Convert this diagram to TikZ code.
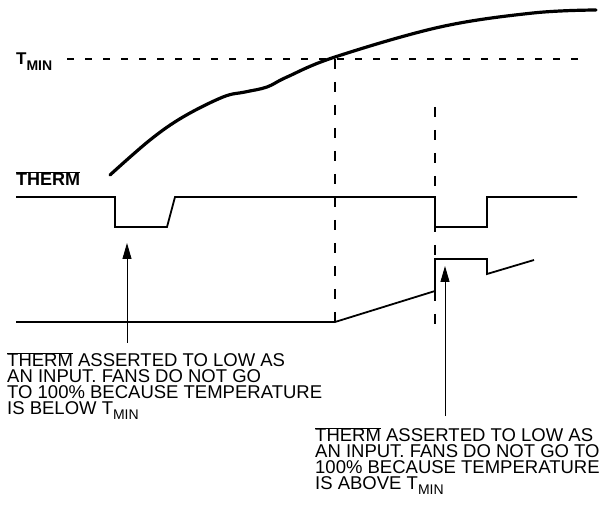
\documentclass[tikz,border=0pt]{standalone}
\usepackage{fontspec}
\setmainfont{Liberation Sans}
\usetikzlibrary{arrows.meta,positioning}
\newcommand{\ovl}[1]{$\overline{\mbox{#1}}$}
\newcommand{\tsub}[1]{\raisebox{-5pt}{\fontsize{14}{14}\selectfont #1}}

\begin{document}
\begin{tikzpicture}[x=1pt, y=-1pt,
    every node/.style={font=\fontsize{18.5}{16}\selectfont, inner sep=0pt},
    wave/.style={line width=1.8pt},
    guide/.style={line width=1.8pt, dash pattern=on 7pt off 11pt},
    vguide/.style={line width=1.8pt, dash pattern=on 10pt off 13pt},
    pointer/.style={line width=0.9pt, -{Triangle[length=16pt, width=9pt]}}]
        \useasboundingbox (0,0) rectangle (603,505);
        % labels
        \node[anchor=base west, font=\fontsize{17}{17}\selectfont\bfseries] (tmin) at (16,65) {T\raisebox{-6pt}{\fontsize{14}{14}\selectfont MIN}};
        \node[anchor=base west, font=\fontsize{18}{18}\selectfont\bfseries] (therm) at (16,186) {\ovl{THERM}};
        % temperature
        \draw[line width=3.2pt, line cap=round] plot[smooth, tension=0.6] coordinates {(110,175) (150,140) (183,117) (223,97) (245,92) (267,87) (287,77) (335,57) (440,27) (533,13) (596,10)};
        \draw[guide] (67,59) -- (578,59);
        \draw[vguide] (335,59) -- (335,322);
        \draw[vguide] (435,107) -- (435,328);
        % therm and fan speed
        \draw[wave] (16,197) -- (115,197) -- (115,227) -- (167,227) -- (175,197) -- (435,197) -- (435,227) -- (487,227) -- (487,197) -- (577,197);
        \draw[wave] (16,322) -- (335,322) -- (435,291) -- (435,259) -- (487,259) -- (487,274) -- (534,260);
        % notes
        \node[anchor=north west, align=left] (note1) at (7,352) {\ovl{THERM} ASSERTED TO LOW AS\\AN INPUT. FANS DO NOT GO\\TO 100\% BECAUSE TEMPERATURE\\IS BELOW T\tsub{MIN}};
        \node[anchor=north west, align=left] (note2) at (315,427) {\ovl{THERM} ASSERTED TO LOW AS\\AN INPUT. FANS DO NOT GO TO\\100\% BECAUSE TEMPERATURE\\IS ABOVE T\tsub{MIN}};
        \coordinate (dip1) at (127,243);
        \coordinate (dip2) at (445,266);
        \draw[pointer, shorten <=9pt] (dip1 |- note1.north) -- (dip1);
        \draw[pointer, shorten <=11pt] (dip2 |- note2.north) -- (dip2);
    \end{tikzpicture}
\end{document}
